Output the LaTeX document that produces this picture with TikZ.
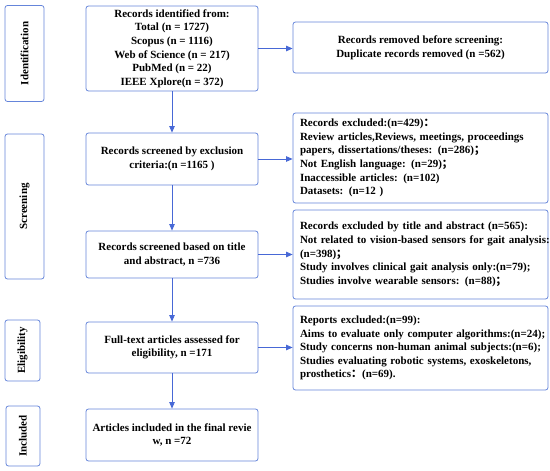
\documentclass[tikz,border=0pt]{standalone}
\usepackage{fontspec}
\setmainfont{Liberation Serif}
\newfontfamily\cjk{Noto Sans CJK SC}
\usetikzlibrary{arrows.meta}
\definecolor{bord}{HTML}{6585DA}
\definecolor{arr}{HTML}{4768D6}
\newcommand{\fc}{{\cjk ：}}
\newcommand{\fs}{{\cjk ；}}
\begin{document}
\begin{tikzpicture}[x=1pt,y=-1pt,
  box/.style={draw=bord, line width=0.8pt, rounded corners=2.5pt, fill=white,
    font=\bfseries\fontsize{11}{13.6}\selectfont, align=center, inner sep=0pt},
  phase/.style={box, rotate=90},
  rbox/.style={box, align=left, inner xsep=7pt},
  conn/.style={draw=arr, line width=0.8pt, -{Triangle[length=6.5pt,width=5.5pt]}}]
\useasboundingbox (0,0) rectangle (550,471);
% phase labels
\node[phase, minimum width=96, minimum height=39] (p1) at (24.5,53.5) {Identification};
\node[phase, minimum width=145, minimum height=39] (p2) at (24.5,206.5) {Screening};
\node[phase, minimum width=61, minimum height=35] (p3) at (22.5,350.5) {Eligibility};
\node[phase, minimum width=60, minimum height=34] (p4) at (23,436) {Included};
% main column
\node[box, minimum width=172, minimum height=85] (b1) at (172,48.5) {Records identified from:\\Total (n = 1727)\\Scopus (n = 1116)\\Web of Science (n = 217)\\PubMed (n = 22)\\IEEE Xplore(n = 372)};
\node[box, minimum width=172, minimum height=52] (b2) at (172,159) {Records screened by exclusion\\criteria:(n =1165 )};
\node[box, minimum width=172, minimum height=47] (b3) at (172,254.5) {Records screened based on title\\and abstract, n =736};
\node[box, minimum width=172, minimum height=51] (b4) at (172,347.5) {Full-text articles assessed for\\eligibility, n =171};
\node[box, minimum width=172, minimum height=52] (b5) at (172,435) {Articles included in the final revie\\w, n =72};
% right column
\node[box, minimum width=255, minimum height=51] (r1) at (420.5,47.5) {Records removed before screening:\\Duplicate records removed (n =562)};
\node[rbox, text width=241, minimum height=90] (r2) at (420.5,158) {Records excluded:(n=429)\fc\\Review articles,Reviews, meetings, proceedings\\papers, dissertations/theses: (n=286)\fs\\Not English language: (n=29)\fs\\Inaccessible articles: (n=102)\\Datasets: (n=12 )};
\node[rbox, text width=241, minimum height=89] (r3) at (420.5,254.5) {Records excluded by title and abstract (n=565):\\\mbox{Not related to vision-based sensors for gait analysis:}\\(n=398)\fs\\\mbox{Study involves clinical gait analysis only:(n=79);}\\Studies involve wearable sensors: (n=88)\fs};
\node[rbox, text width=241, minimum height=84] (r4) at (420.5,348) {Reports excluded:(n=99):\\\mbox{Aims to evaluate only computer algorithms:(n=24);}\\\mbox{Study concerns non-human animal subjects:(n=6);}\\Studies evaluating robotic systems, exoskeletons,\\prosthetics\fc(n=69).\\[2pt]};
% connectors
\draw[conn] (b1) -- (b2);
\draw[conn] (b2) -- (b3);
\draw[conn] (b3) -- (b4);
\draw[conn] (b4) -- (b5);
\draw[conn] (b1) -- (r1.west |- b1);
\draw[conn] (b2) -- (r2.west |- b2);
\draw[conn] (b3) -- (r3.west |- b3);
\draw[conn] (b4) -- (r4.west |- b4);
\end{tikzpicture}
\end{document}
